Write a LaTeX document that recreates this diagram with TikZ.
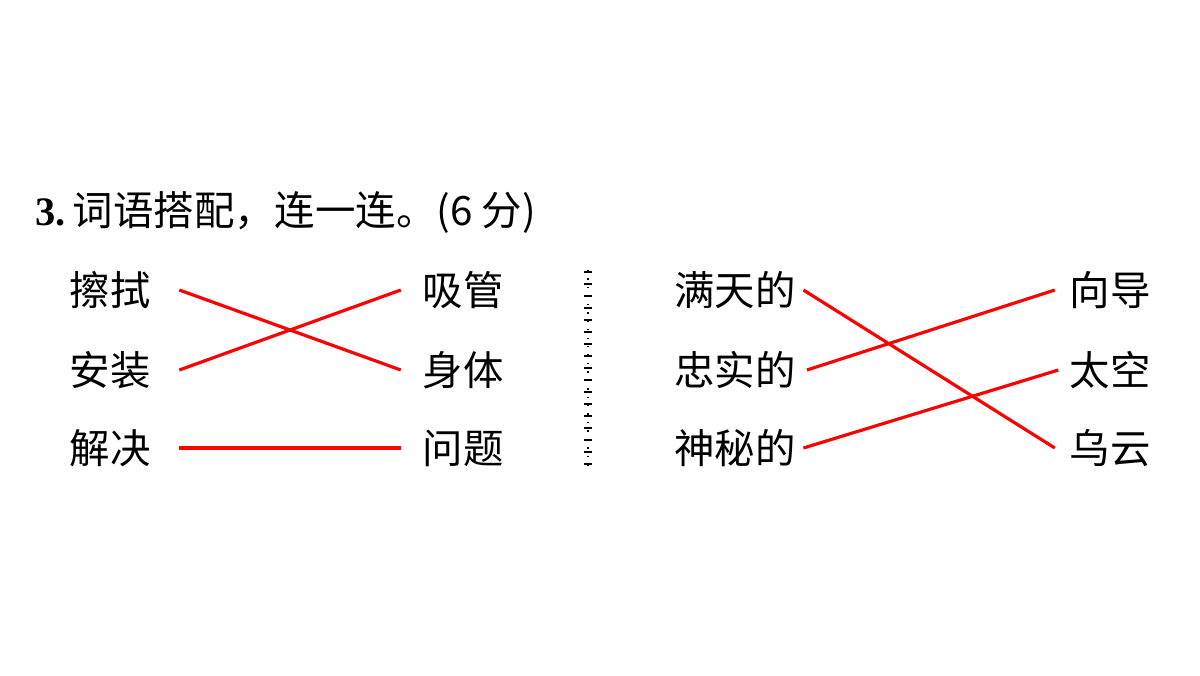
\documentclass[tikz,border=0pt]{standalone}
\usepackage{fontspec}
\setmainfont{Liberation Serif}
\newfontfamily\cjk{Noto Sans CJK SC}
\begin{document}
\begin{tikzpicture}[x=0.01cm,y=-0.01cm,
  word/.style={font=\cjk\fontsize{11.5}{13}\selectfont, inner sep=0pt},
  link/.style={red, line width=0.9pt}]
\useasboundingbox (0,0) rectangle (1200,675);
\node[anchor=west, inner sep=0pt, font=\fontsize{11.5}{13}\selectfont] (title) at (35,212)
  {\textbf{3.}\,{\cjk 词语搭配，连一连。(6 分)}};
\node[word] (a1) at (110,290) {擦拭};
\node[word] (a2) at (110,370) {安装};
\node[word] (a3) at (110,448) {解决};
\node[word] (b1) at (463,290) {吸管};
\node[word] (b2) at (463,370) {身体};
\node[word] (b3) at (463,448) {问题};
\node[word] (c1) at (735,290) {满天的};
\node[word] (c2) at (735,370) {忠实的};
\node[word] (c3) at (735,448) {神秘的};
\node[word] (d1) at (1110,290) {向导};
\node[word] (d2) at (1110,370) {太空};
\node[word] (d3) at (1110,448) {乌云};
\draw[link] ([xshift=8pt]a1.east) -- ([xshift=-6pt]b2.west);
\draw[link] ([xshift=8pt]a2.east) -- ([xshift=-6pt]b1.west);
\draw[link] ([xshift=8pt]a3.east) -- ([xshift=-6pt]b3.west);
\draw[link] ([xshift=2pt]c1.east) -- ([xshift=-4pt]d3.west);
\draw[link] ([xshift=3pt]c2.east) -- ([xshift=-4pt]d1.west);
\draw[link] ([xshift=2pt]c3.east) -- ([xshift=-3pt]d2.west);
\coordinate (t) at (588,270);
\coordinate (u) at (588,470);
\draw[black, line width=0.4pt, dotted] (t) -- (u);
\foreach \k in {0,...,16} \draw[line width=0.4pt] (584,{272+12*\k}) -- (592,{272+12*\k});
\end{tikzpicture}
\end{document}
